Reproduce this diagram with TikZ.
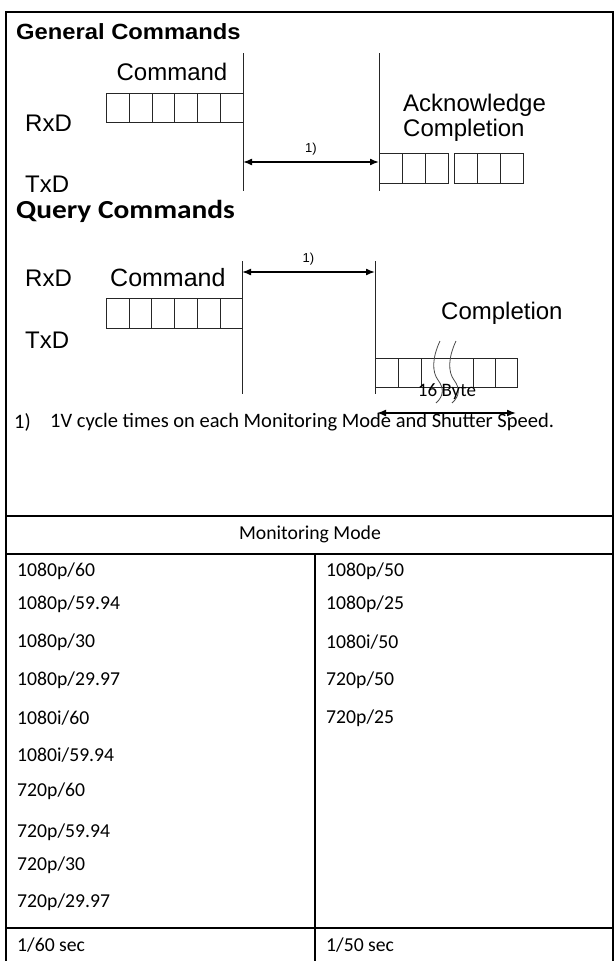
\documentclass[tikz,border=0pt]{standalone}
\usepackage{fontspec}
\setmainfont{Liberation Sans}
\newfontfamily\calib{Carlito}
\usetikzlibrary{arrows.meta, positioning}

\begin{document}
\begin{tikzpicture}[x=1pt, y=-1pt, >={Latex[length=9pt,width=7pt]},
        frameline/.style={line width=2pt},
        thinline/.style={line width=0.8pt, black!85},
        cell/.style={draw=black!85, line width=0.8pt, minimum width=22.8pt,
          minimum height=29pt, inner sep=0pt, anchor=north west},
        lbl/.style={font=\fontsize{24}{26}\selectfont, inner sep=0pt},
        note/.style={font=\calib\fontsize{19.7}{22}\selectfont, inner sep=0pt, anchor=west},
        dim/.style={<->, line width=1.6pt}]
      \useasboundingbox (0,0) rectangle (615,961);
      % outer frame and table rules
      \draw[frameline] (6,961) -- (6,12) -- (613,12) -- (613,961);
      \draw[frameline] (6,516) -- (613,516) (6,554) -- (613,554) (6,928) -- (613,928);
      \draw[frameline] (315,554) -- (315,961);

      % general commands
      \node[anchor=west, inner sep=0pt, font=\bfseries\fontsize{22}{24}\selectfont] (gtitle) at (16,32) {\scalebox{1.08}[1]{General Commands}};
      \node[lbl] (gcmd) at (172,72) {Command};
      \node[lbl, anchor=west] (grx) at (25,123) {RxD};
      \node[lbl, anchor=west] (gtx) at (25,184) {TxD};
      \node[lbl, anchor=west] (gack) at (403,105) {Acknowledge};
      \node[lbl, anchor=west] (gcomp) at (403,130) {Completion};
      \foreach \i in {0,...,5}
        \node[cell] (gc\i) at ({106+\i*22.8},93) {};
      \foreach \i in {0,1,2} {
        \node[cell, minimum width=23pt, minimum height=30pt] (ga\i) at ({379+\i*23},153) {};
        \node[cell, minimum width=23pt, minimum height=30pt] (gb\i) at ({454+\i*23},153) {};
      }
      \coordinate (gv1t) at (243,53);  \coordinate (gv1b) at (243,191);
      \coordinate (gv2t) at (379,53);  \coordinate (gv2b) at (379,191);
      \coordinate (gl) at (243,162);   \coordinate (gr) at (379,162);
      \draw[thinline] (gv1t) -- (gv1b) (gv2t) -- (gv2b);
      \draw[dim] (gl) -- node[above=6pt, inner sep=0pt, font=\fontsize{13}{14}\selectfont]{1)} (gr);

      % query commands
      \node[anchor=west, inner sep=0pt, font=\calib\bfseries\fontsize{26}{28}\selectfont] (qtitle) at (16,211) {\scalebox{1.13}[1]{Query Commands}};
      \node[lbl, anchor=west] (qrx) at (25,278) {RxD};
      \node[lbl, anchor=west, font=\fontsize{25}{27}\selectfont] (qcmd) at (110,278) {Command};
      \node[lbl, anchor=west] (qtx) at (25,340) {TxD};
      \node[lbl, anchor=west] (qcomp) at (441,313) {Completion};
      \foreach \i in {0,...,5}
        \node[cell, minimum width=22.7pt, minimum height=30pt] (qc\i) at ({106+\i*22.7},298) {};
      \node[cell, minimum width=23pt] (qd0) at (375,358) {};
      \node[cell, minimum width=23pt] (qd1) at (398,358) {};
      \node[cell, minimum width=22pt] (qd2) at (473,358) {};
      \node[cell, minimum width=22pt] (qd3) at (495,358) {};
      \draw[thinline] (qd1.north east) -- (qd2.north west) (qd1.south east) -- (qd2.south west);
      \foreach \sx in {438,454}
        \draw[thinline, black!70] ({\sx+2},341) .. controls ({\sx-6},358) and ({\sx-6},372) .. (\sx,380)
          .. controls ({\sx+6},388) and ({\sx+6},396) .. ({\sx-2},403);
      \coordinate (qv1t) at (242,261);  \coordinate (qv1b) at (242,394);
      \coordinate (qv2t) at (375,261);  \coordinate (qv2b) at (375,394);
      \coordinate (ql) at (242,272);    \coordinate (qr) at (375,272);
      \draw[thinline] (qv1t) -- (qv1b) (qv2t) -- (qv2b);
      \draw[dim] (ql) -- node[above=6pt, inner sep=0pt, font=\fontsize{13}{14}\selectfont]{1)} (qr);
      \node[font=\calib\fontsize{19}{21}\selectfont, inner sep=0pt] (qbyte) at (447,392) {16 Byte};
      \coordinate (qbl) at (377,413);   \coordinate (qbr) at (516,413);
      \draw[dim] (qbl) -- (qbr);

      % footnote
      \node[note, font=\calib\fontsize{20.5}{22}\selectfont] (fnum) at (14,422) {1)};
      \node[note, font=\calib\fontsize{20.5}{22}\selectfont] (ftext) at (50,422) {1V cycle times on each Monitoring Mode and Shutter Speed.};

      % monitoring mode table
      \node[note, anchor=center] (mhead) at (310,534) {Monitoring Mode};
      \foreach \y/\t [count=\i] in {571/{1080p/60}, 604/{1080p/59.94}, 642/{1080p/30},
          680/{1080p/29.97}, 718/{1080i/60}, 755/{1080i/59.94}, 791/{720p/60},
          832/{720p/59.94}, 865/{720p/30}, 902/{720p/29.97}}
        \node[note] (ml\i) at (17,\y) {\t};
      \foreach \y/\t [count=\i] in {571/{1080p/50}, 604/{1080p/25}, 642/{1080i/50},
          680/{720p/50}, 718/{720p/25}}
        \node[note] (mr\i) at (326,\y) {\t};
      \node[note] (sl) at (17,945) {1/60 sec};
      \node[note] (sr) at (326,945) {1/50 sec};
    \end{tikzpicture}
\end{document}
